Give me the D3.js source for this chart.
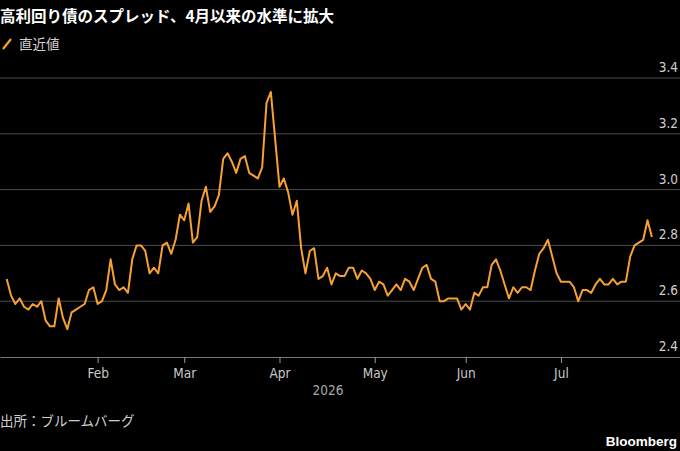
<!DOCTYPE html>
<html>
<head>
<meta charset="utf-8">
<script src="https://cdn.jsdelivr.net/npm/d3@7"></script>
<style>
  html, body { margin: 0; padding: 0; background: #000; }
  #chart { width: 680px; height: 451px; }
</style>
</head>
<body>
<div id="chart"></div>
<script>
// Chart text
var titleText = "高利回り債のスプレッド、4月以来の水準に拡大";
var legendLabel = "直近値";
var sourceText = "出所：ブルームバーグ";
var yearLabel = "2026";

// Y ticks and month labels
var yTicks = [2.4, 2.6, 2.8, 3.0, 3.2, 3.4];
var monthLabels = ["Feb", "Mar", "Apr", "May", "Jun", "Jul"];

// Spread, one value per business day starting Jan 2 2026
var spreadValues = [
  2.68, 2.62, 2.59, 2.61, 2.58, 2.57, 2.59, 2.58, 2.60, 2.53,
  2.51, 2.51, 2.61, 2.54, 2.50, 2.56, 2.57, 2.58, 2.59, 2.64,
  2.65, 2.59, 2.60, 2.64, 2.75, 2.66, 2.64, 2.65, 2.63, 2.75,
  2.80, 2.80, 2.78, 2.70, 2.72, 2.70, 2.80, 2.81, 2.77, 2.82,
  2.91, 2.89, 2.95, 2.81, 2.83, 2.96, 3.01, 2.92, 2.94, 2.98,
  3.11, 3.13, 3.10, 3.06, 3.11, 3.12, 3.06, 3.05, 3.04, 3.08,
  3.31, 3.35, 3.18, 3.01, 3.04, 2.99, 2.91, 2.96, 2.79, 2.70,
  2.78, 2.79, 2.68, 2.69, 2.72, 2.66, 2.70, 2.69, 2.69, 2.72,
  2.72, 2.68, 2.71, 2.70, 2.68, 2.64, 2.67, 2.66, 2.62, 2.64,
  2.66, 2.64, 2.68, 2.67, 2.64, 2.68, 2.72, 2.73, 2.68, 2.67,
  2.60, 2.60, 2.61, 2.61, 2.61, 2.57, 2.59, 2.57, 2.63, 2.62,
  2.65, 2.65, 2.73, 2.75, 2.71, 2.66, 2.61, 2.65, 2.63, 2.65,
  2.65, 2.64, 2.71, 2.77, 2.79, 2.82, 2.76, 2.70, 2.67, 2.67,
  2.67, 2.65, 2.60, 2.64, 2.64, 2.63, 2.66, 2.68, 2.66, 2.66,
  2.68, 2.66, 2.67, 2.67, 2.76, 2.80, 2.81, 2.82, 2.89, 2.83
];

var W = 680, H = 451;
var orange = "#f7a033";
var condensed = "'DejaVu Sans Condensed', 'Liberation Sans Narrow', sans-serif";
var cjk = "'Noto Sans CJK JP', sans-serif";

function drawChart() {
  // business days for the series
  var days = d3.timeDay.range(new Date(2026, 0, 2), new Date(2026, 7, 31))
    .filter(function(d) { return d.getDay() !== 0 && d.getDay() !== 6; })
    .slice(0, spreadValues.length);

  var dataset = spreadValues.map(function(v, i) {
    return { i: i, date: days[i], value: v };
  });

  // first business day of each month after January
  var monthStarts = [];
  dataset.forEach(function(d, i) {
    if (i > 0 && d.date.getMonth() !== dataset[i - 1].date.getMonth()) monthStarts.push(d.i);
  });
  monthStarts = monthStarts.slice(0, monthLabels.length);

  var xScale = d3.scaleLinear().domain([-1.55, 155.5]).range([0, W]);
  var yScale = d3.scaleLinear().domain([2.4, 3.4]).range([357, 78]);

  var svg = d3.select("#chart")
    .append("svg")
    .attr("width", W)
    .attr("height", H)
    .style("background", "#000");

  // Title
  svg.append("text")
    .attr("x", 0)
    .attr("y", 22)
    .attr("fill", "#fff")
    .style("font-family", cjk)
    .style("font-weight", "bold")
    .style("font-size", "15.5px")
    .text(titleText);

  // Legend
  svg.append("line")
    .attr("x1", 3).attr("y1", 49)
    .attr("x2", 11).attr("y2", 39)
    .attr("stroke", orange)
    .attr("stroke-width", 2.2);
  svg.append("text")
    .attr("x", 19)
    .attr("y", 49)
    .attr("fill", "#d0d0d0")
    .style("font-family", cjk)
    .style("font-size", "13.5px")
    .text(legendLabel);

  // Gridlines
  svg.selectAll(".grid")
    .data(yTicks.slice(1))
    .enter()
    .append("line")
    .attr("class", "grid")
    .attr("x1", 0)
    .attr("x2", W)
    .attr("y1", function(d) { return yScale(d); })
    .attr("y2", function(d) { return yScale(d); })
    .attr("stroke", "#4a4a4a")
    .attr("stroke-width", 1);

  // Y labels
  svg.selectAll(".ylabel")
    .data(yTicks)
    .enter()
    .append("text")
    .attr("class", "ylabel")
    .attr("x", 678)
    .attr("y", function(d) { return yScale(d) - 6; })
    .attr("text-anchor", "end")
    .attr("fill", "#cfcfcf")
    .style("font-family", condensed)
    .style("font-size", "13.5px")
    .text(function(d) { return d3.format(".1f")(d); });

  // X axis
  var xAxis = d3.axisBottom(xScale)
    .tickValues(monthStarts)
    .tickFormat(function(d, i) { return monthLabels[i]; })
    .tickSize(6)
    .tickSizeOuter(0)
    .tickPadding(5);

  var gx = svg.append("g")
    .attr("id", "x-axis")
    .attr("transform", "translate(0," + yScale(2.4) + ")")
    .call(xAxis);
  gx.select(".domain").attr("stroke", "#777");
  gx.selectAll(".tick line").attr("stroke", "#999");
  gx.selectAll(".tick text")
    .attr("fill", "#c8c8c8")
    .style("font-family", condensed)
    .style("font-size", "13.5px");

  svg.append("text")
    .attr("x", 328)
    .attr("y", 395)
    .attr("text-anchor", "middle")
    .attr("fill", "#a8a8a8")
    .style("font-family", condensed)
    .style("font-size", "13.5px")
    .text(yearLabel);

  // Line
  var line = d3.line()
    .x(function(d) { return xScale(d.i); })
    .y(function(d) { return yScale(d.value); });

  svg.append("path")
    .datum(dataset)
    .attr("d", line)
    .attr("fill", "none")
    .attr("stroke", orange)
    .attr("stroke-width", 2)
    .attr("stroke-linejoin", "round");

  // Footer
  svg.append("text")
    .attr("x", 0)
    .attr("y", 426)
    .attr("fill", "#d0d0d0")
    .style("font-family", cjk)
    .style("font-size", "13.5px")
    .text(sourceText);

  svg.append("text")
    .attr("x", 677)
    .attr("y", 446)
    .attr("text-anchor", "end")
    .attr("fill", "#fff")
    .style("font-family", "'Liberation Sans', Arial, sans-serif")
    .style("font-weight", "bold")
    .style("font-size", "13.5px")
    .text("Bloomberg");
}

window.onload = function() {
  drawChart();
};
</script>
</body>
</html>
